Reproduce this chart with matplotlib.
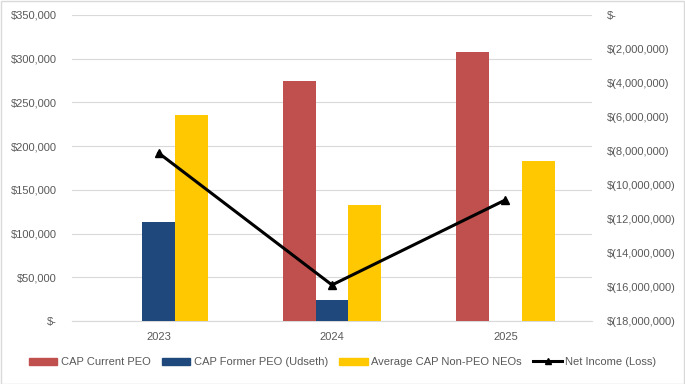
import matplotlib
matplotlib.use("Agg")
import matplotlib.pyplot as plt
import numpy as np
from matplotlib.ticker import FuncFormatter
from matplotlib.lines import Line2D
from matplotlib.patches import Patch, Rectangle

years = ["2023", "2024", "2025"]
cap_current_peo = [0, 275000, 308000]
cap_former_peo = [113500, 24000, 0]
avg_cap_non_peo = [236000, 133000, 183000]
net_income = [-8120000, -15880000, -10880000]

c_red = "#C0504D"
c_blue = "#1F497D"
c_yellow = "#FFC800"
txt = "#595959"

plt.rcParams['font.family'] = ['Liberation Sans', 'DejaVu Sans']

fig = plt.figure(figsize=(6.85, 3.84), dpi=100)
ax = fig.add_axes([72/685, 1-321/384, 520/685, 306/384])
ax2 = ax.twinx()

x = np.arange(len(years))
w = 0.19
ax.bar(x - w, cap_current_peo, w, color=c_red, zorder=3)
ax.bar(x, cap_former_peo, w, color=c_blue, zorder=3)
ax.bar(x + w, avg_cap_non_peo, w, color=c_yellow, zorder=3)

ax.set_xlim(-0.5, 2.5)
ax.set_ylim(0, 350000)
ax.set_yticks(np.arange(0, 350001, 50000))
ax.yaxis.set_major_formatter(FuncFormatter(lambda v, p: "$-" if v == 0 else f"${v:,.0f}"))
ax.grid(axis='y', color="#D9D9D9", linewidth=0.8, zorder=0)
ax.set_xticks(x)
ax.set_xticklabels(years)
for s in ['top', 'left', 'right']:
    ax.spines[s].set_visible(False)
ax.spines['bottom'].set_color("#D9D9D9")
ax.tick_params(axis='both', length=0, labelsize=8, colors=txt)
ax.tick_params(axis='y', pad=11)
ax.tick_params(axis='x', pad=8)

ax2.plot(x, net_income, color='black', linewidth=2.2, marker='^', markersize=5.5, zorder=5)
ax2.set_ylim(-18000000, 0)
ax2.set_yticks(np.arange(-18000000, 1, 2000000))
ax2.yaxis.set_major_formatter(FuncFormatter(lambda v, p: "$-" if v == 0 else f"$({abs(v):,.0f})"))
for s in ['top', 'left', 'right', 'bottom']:
    ax2.spines[s].set_visible(False)
ax2.tick_params(axis='y', length=0, labelsize=8, colors=txt, pad=11)

handles = [Patch(color=c_red), Patch(color=c_blue), Patch(color=c_yellow),
           Line2D([0], [0], color='black', linewidth=2.2, marker='^', markersize=5)]
labels = ["CAP Current PEO", "CAP Former PEO (Udseth)", "Average CAP Non-PEO NEOs", "Net Income (Loss)"]
fig.legend(handles, labels, loc='center', bbox_to_anchor=(0.5, 1-362/384), ncol=4, frameon=False,
           fontsize=8, labelcolor=txt, handlelength=2.6, handleheight=0.6, columnspacing=1.0, handletextpad=0.3)

fig.patches.append(Rectangle((0.001, 0.001), 0.997, 0.997, transform=fig.transFigure,
                             fill=False, edgecolor="#D9D9D9", linewidth=1))

fig.savefig("out.png", dpi=100, facecolor='white')
